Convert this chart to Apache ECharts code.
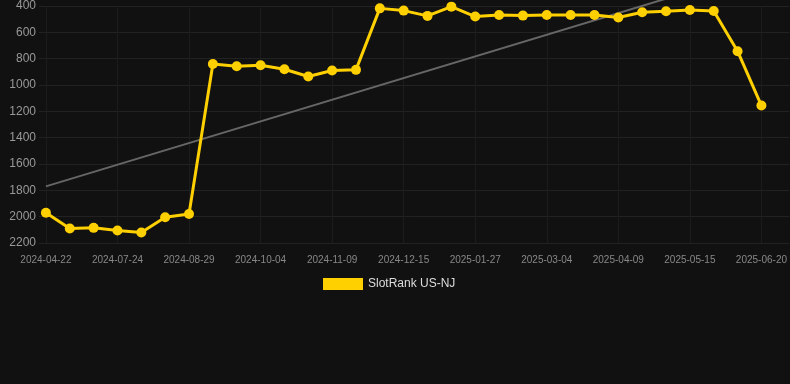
<!DOCTYPE html>
<html>
<head>
<meta charset="utf-8">
<script src="https://cdn.jsdelivr.net/npm/echarts@6/dist/echarts.min.js"></script>
<style>
  html, body { margin: 0; padding: 0; background: #111111; }
  #chart { width: 790px; height: 384px; }
</style>
</head>
<body>
<div id="chart"></div>
<script>
var dates = [
  '2024-04-22', '2024-05-23', '2024-06-23', '2024-07-24', '2024-08-05', '2024-08-17',
  '2024-08-29', '2024-09-10', '2024-09-22', '2024-10-04', '2024-10-16', '2024-10-28',
  '2024-11-09', '2024-11-21', '2024-12-03', '2024-12-15', '2024-12-29', '2025-01-12',
  '2025-01-27', '2025-02-08', '2025-02-20', '2025-03-04', '2025-03-16', '2025-03-28',
  '2025-04-09', '2025-04-21', '2025-05-03', '2025-05-15', '2025-05-27', '2025-06-08',
  '2025-06-20'
]
var rankValues = [
  1970, 2090, 2085, 2105, 2120, 2005, 1980, 840, 858, 850, 880, 935,
  890, 885, 418, 435, 475, 405, 480, 468, 473, 468, 468, 468,
  488, 448, 440, 430, 438, 743, 1156
]
// which dates get a label / vertical grid line
var labelIdx = [0, 3, 6, 9, 12, 15, 18, 21, 24, 27, 30]
// trend line end points (first and last date)
var trendStart = 1770
var trendEnd = 125
var yTicks = { min: 400, max: 2200, step: 200 }

var rankData = rankValues.map(function(v, i) { return [i, v] })
var trendData = [[0, trendStart], [dates.length - 1, trendEnd]]

var font = 'Arial, Liberation Sans, sans-serif'
var chart = echarts.init(document.getElementById('chart'))
var option = {
  backgroundColor: '#111111',
  animation: false,
  grid: { left: 39, right: 0, top: 6, bottom: 141 },
  legend: {
    left: 318,
    top: 273,
    itemWidth: 40,
    itemHeight: 12,
    icon: 'rect',
    textStyle: { color: '#dddddd', fontSize: 12, fontFamily: font },
    data: ['SlotRank US-NJ']
  },
  xAxis: {
    type: 'value',
    min: -0.29,
    max: 31.17,
    axisLine: { show: false },
    axisTick: { show: false, customValues: labelIdx },
    axisLabel: {
      customValues: labelIdx,
      color: '#888888',
      fontSize: 10,
      margin: 12,
      fontFamily: font,
      formatter: function(v) { return dates[Math.round(v)] }
    },
    splitLine: { show: true, lineStyle: { color: '#1c1c1c' } }
  },
  yAxis: {
    type: 'value',
    inverse: true,
    min: yTicks.min,
    max: yTicks.max,
    interval: yTicks.step,
    axisLine: { show: false },
    axisTick: { show: false },
    axisLabel: {
      color: '#999999',
      fontSize: 12,
      margin: 3,
      fontFamily: font,
      formatter: function(v) { return String(v) }
    },
    splitLine: { lineStyle: { color: '#222222' } }
  },
  series: [
    {
      name: 'SlotRank US-NJ',
      type: 'line',
      data: rankData,
      clip: false,
      symbol: 'circle',
      symbolSize: 10,
      lineStyle: { color: '#ffd000', width: 3 },
      itemStyle: { color: '#ffd000' },
      z: 3
    },
    {
      name: 'trend',
      type: 'line',
      data: trendData,
      clip: false,
      symbol: 'none',
      lineStyle: { color: '#666666', width: 2 },
      z: 2
    }
  ]
}
chart.setOption(option)
</script>
</body>
</html>
